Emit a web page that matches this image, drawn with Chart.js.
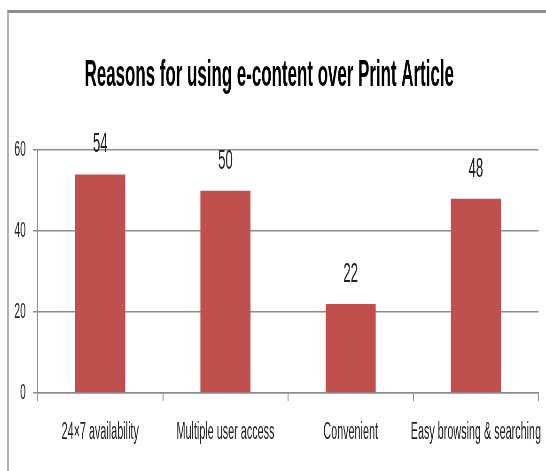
<!DOCTYPE html>
<html>
<head>
<meta charset="utf-8">
<title>Reasons for using e-content over Print Article</title>
<script src="https://cdn.jsdelivr.net/npm/chart.js@4.4.0/dist/chart.umd.min.js"></script>
<style>
  html, body { margin: 0; padding: 0; background: #fff; overflow: hidden; }
  #wrap { position: relative; width: 546px; height: 471px; overflow: hidden; }
  /* outer chart frame, open to the right and bottom */
  #frame {
    position: absolute; left: 7px; top: 10px; width: 560px; height: 480px;
    border-top: 3px solid #8c8c8c; border-left: 2px solid #b2b2b2;
  }
  #chart { position: absolute; left: 0; top: 0; }
</style>
</head>
<body>
<div id="wrap">
  <div id="frame"></div>
  <!-- drawn wide, then squeezed horizontally for the condensed look -->
  <canvas id="chart" width="1162" height="471" style="width:546px;height:471px"></canvas>
</div>
<script>
const reasons = ['24×7 availability', 'Multiple user access', 'Convenient', 'Easy browsing & searching'];
const respondents = [54, 50, 22, 48];
const yTicks = [0, 20, 40, 60];

const fontFamily = '"Liberation Sans", Arial, sans-serif';
const axisGray = '#8c8c8c';
const barRed = '#c0504d';

// Writes each bar's value above it
const valueLabels = {
    id: 'valueLabels',
    afterDatasetsDraw(chart) {
        const ctx = chart.ctx;
        const meta = chart.getDatasetMeta(0);
        ctx.save();
        ctx.font = '28px ' + fontFamily;
        ctx.fillStyle = '#222';
        ctx.textAlign = 'center';
        ctx.textBaseline = 'alphabetic';
        meta.data.forEach((bar, i) => {
            ctx.fillText(String(respondents[i]), bar.x, bar.y - 22);
        });
        ctx.restore();
    }
};

const ctx = document.getElementById('chart').getContext('2d');
new Chart(ctx, {
    type: 'bar',
    data: {
        labels: reasons,
        datasets: [{
            data: respondents,
            backgroundColor: barRed,
            borderWidth: 0,
            categoryPercentage: 1,
            barPercentage: 0.4
        }]
    },
    options: {
        responsive: false,
        animation: false,
        layout: { padding: { left: 0, right: 16, top: 0, bottom: 0 } },
        plugins: {
            legend: { display: false },
            tooltip: { enabled: false },
            title: {
                display: true,
                text: 'Reasons for using e-content over Print Article',
                color: '#000',
                font: { family: fontFamily, size: 36, weight: 'bold', lineHeight: 1.2 },
                padding: { top: 54, bottom: 53 }
            }
        },
        scales: {
            x: {
                grid: {
                    offset: true,
                    drawOnChartArea: false,
                    drawTicks: true,
                    tickLength: 8,
                    color: axisGray,
                    lineWidth: 2
                },
                border: { color: axisGray, width: 1.5 },
                ticks: {
                    color: '#222',
                    font: { family: fontFamily, size: 23 },
                    padding: 18,
                    maxRotation: 0,
                    autoSkip: false
                },
                afterFit(scale) {
                    scale.height = 78;
                    scale.paddingLeft = 0;
                    scale.paddingRight = 0;
                }
            },
            y: {
                min: 0,
                max: 60,
                afterBuildTicks(scale) {
                    scale.ticks = yTicks.map(v => ({ value: v }));
                },
                grid: { color: axisGray, lineWidth: 1.5, tickLength: 10 },
                border: { color: axisGray, width: 2 },
                ticks: {
                    color: '#222',
                    font: { family: fontFamily, size: 22 },
                    padding: 15
                },
                afterFit(scale) {
                    scale.width = 80;
                }
            }
        }
    },
    plugins: [valueLabels]
});
</script>
</body>
</html>
